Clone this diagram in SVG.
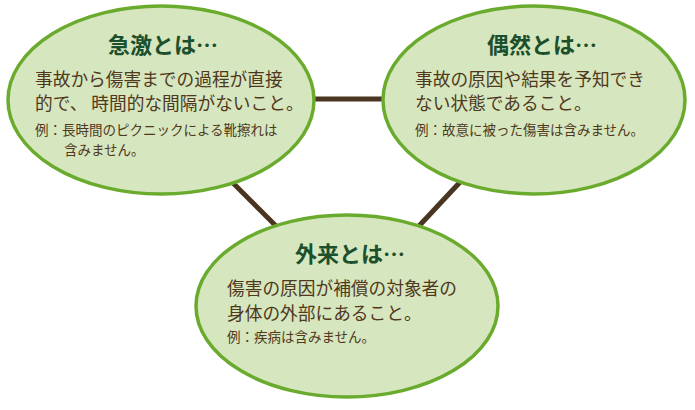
<svg xmlns="http://www.w3.org/2000/svg" width="695" height="410" viewBox="0 0 695 410">
<style>
.bub{fill:#d6e6bf;stroke:#6aab2e;stroke-width:3.5}
.con{stroke:#4a3620;stroke-width:5;fill:none}
.t{font-family:"Noto Sans CJK JP","Noto Sans CJK SC",sans-serif;font-weight:bold;font-size:22px;fill:#1c4f2c;text-anchor:middle}
.b{font-family:"Noto Sans CJK JP","Noto Sans CJK SC",sans-serif;font-size:17.7px;fill:#4f381c}
.s{font-family:"Noto Sans CJK JP","Noto Sans CJK SC",sans-serif;font-size:13.5px;fill:#4f381c}
</style>
<rect width="695" height="410" fill="#ffffff"/>
<g id="connectors">
<line class="con" x1="310" y1="99" x2="386" y2="99"/>
<line class="con" x1="232" y1="182" x2="276" y2="226"/>
<line class="con" x1="462" y1="180" x2="419" y2="226"/>
</g>
<g id="node-kyugeki">
<ellipse class="bub" cx="161" cy="100" rx="153" ry="94"/>
<text class="t" x="163" y="53">急激とは…</text>
<text class="b" x="35" y="86">事故から傷害までの過程が直接</text>
<text class="b" x="35" y="110">的で、 時間的な間隔がないこと。</text>
<text class="s" x="35" y="135">例：長時間のピクニックによる靴擦れは</text>
<text class="s" x="64" y="155">含みません。</text>
</g>
<g id="node-guzen">
<ellipse class="bub" cx="534" cy="100" rx="151" ry="94"/>
<text class="t" x="542" y="53">偶然とは…</text>
<text class="b" x="415" y="86">事故の原因や結果を予知でき</text>
<text class="b" x="415" y="110">ない状態であること。</text>
<text class="s" x="415" y="135">例：故意に被った傷害は含みません。</text>
</g>
<g id="node-gairai">
<ellipse class="bub" cx="347" cy="306" rx="151" ry="91"/>
<text class="t" x="350" y="262">外来とは…</text>
<text class="b" x="227" y="295">傷害の原因が補償の対象者の</text>
<text class="b" x="227" y="320">身体の外部にあること。</text>
<text class="s" x="227" y="342">例：疾病は含みません。</text>
</g>
</svg>
